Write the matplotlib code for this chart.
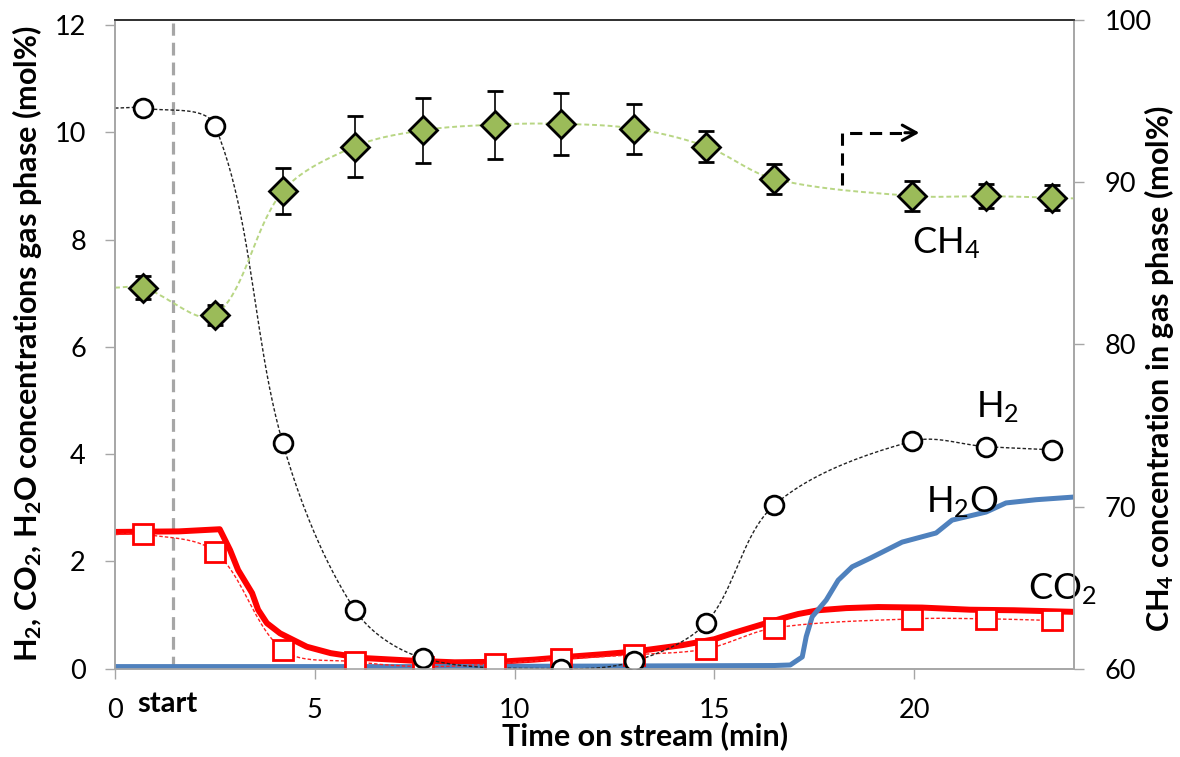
import numpy as np
import matplotlib
matplotlib.use('Agg')
import matplotlib.pyplot as plt

plt.rcParams['font.family'] = ['Lato', 'DejaVu Sans']
plt.rcParams['mathtext.default'] = 'regular'

# sample times (min) of the discrete analyses
t_pts = [0.7, 2.5, 4.2, 6.0, 7.7, 9.5, 11.15, 13.0, 14.8, 16.5, 19.95, 21.8, 23.45]
# H2 (mol%), no analysis shown at 9.5 min
h2_t = [0.7, 2.5, 4.2, 6.0, 7.7, 11.15, 13.0, 14.8, 16.5, 19.95, 21.8, 23.45]
h2 = [10.45, 10.12, 4.2, 1.1, 0.2, 0.0, 0.14, 0.86, 3.05, 4.24, 4.14, 4.08]
h2_start = 10.45
# CO2 (mol%) discrete
co2 = [2.51, 2.18, 0.35, 0.13, 0.04, 0.09, 0.18, 0.26, 0.37, 0.76, 0.93, 0.93, 0.9]
co2_start = 2.5
# CH4 (mol%, right axis) and error
ch4 = [83.5, 81.8, 89.45, 92.2, 93.2, 93.55, 93.6, 93.3, 92.2, 90.2, 89.15, 89.14, 89.05]
ch4_err = [0.7, 0.6, 1.4, 1.9, 2.0, 2.1, 1.9, 1.55, 0.95, 0.9, 0.9, 0.75, 0.75]
ch4_start = 83.5
ch4_end = 89.0

# continuous CO2 signal
co2_ms_t = [0, 1.6, 2.62, 2.88, 3.08, 3.43, 3.58, 3.8, 4.13, 4.8, 5.4, 6.2, 7.45, 8.5,
            9.6, 10.5, 11.3, 12.2, 13.0, 14.2, 15.0, 15.45, 16.3, 16.7, 17.1, 17.6,
            18.3, 19.1, 20.2, 21.4, 22.5, 24]
co2_ms = [2.55, 2.56, 2.6, 2.21, 1.84, 1.41, 1.1, 0.85, 0.66, 0.41, 0.29, 0.2, 0.15, 0.12,
          0.13, 0.17, 0.22, 0.27, 0.32, 0.44, 0.55, 0.66, 0.85, 0.94, 1.02, 1.09,
          1.13, 1.15, 1.14, 1.1, 1.09, 1.06]
# continuous H2O signal
h2o_ms_t = [0, 8, 16.5, 16.9, 17.2, 17.3, 17.45, 17.8, 18.1, 18.45, 18.9, 19.7,
            20.55, 20.95, 21.8, 22.3, 23.05, 24]
h2o_ms = [0.04, 0.04, 0.06, 0.07, 0.22, 0.6, 0.97, 1.28, 1.65, 1.9, 2.06, 2.36,
          2.53, 2.77, 2.92, 3.09, 3.15, 3.2]

start_t = 1.45


def smooth(x, y, sx, sy, n=24):
    # smoothed line like a spreadsheet chart: bezier segments, arms scaled by chord length
    p = np.column_stack([np.asarray(x, float) * sx, np.asarray(y, float) * sy])
    p = np.vstack([p[0], p, p[-1]])
    d = np.hypot(*np.diff(p, axis=0).T) + 1e-9
    out = []
    s = np.linspace(0, 1, n)[:, None]
    for i in range(1, len(p) - 2):
        p0, p1, p2, p3 = p[i - 1], p[i], p[i + 1], p[i + 2]
        d01, d12, d23 = d[i - 1], d[i], d[i + 1]
        c1 = p1 + (p2 - p0) * d12 / (d01 + d12) / 3
        c2 = p2 - (p3 - p1) * d12 / (d12 + d23) / 3
        seg = ((1 - s) ** 3) * p1 + 3 * ((1 - s) ** 2) * s * c1 + 3 * (1 - s) * s ** 2 * c2 + s ** 3 * p2
        out.append(seg)
    out = np.vstack(out)
    return out[:, 0] / sx, out[:, 1] / sy


fig = plt.figure(figsize=(11.8, 7.57), dpi=100)
ax = fig.add_axes([0.0975, 0.1166, 0.8126, 0.8576])
ax2 = ax.twinx()

ax.set_xlim(0, 24)
ax.set_ylim(0, 12.1)
ax2.set_ylim(60, 100.03)

gray = '#a6a6a6'
# start marker
ax.axvline(start_t, ymin=0, ymax=0.995, color=gray, lw=2.3, dashes=(4, 2.2), zorder=1)

# continuous signals
ax.plot(co2_ms_t, co2_ms, color='#ff0000', lw=4.3, zorder=2, solid_joinstyle='round')
ax.plot(h2o_ms_t, h2o_ms, color='#4f81bd', lw=3.6, zorder=3, solid_joinstyle='round')

# smoothed dotted lines through the analyses
xs, ys = smooth([0] + t_pts, [co2_start] + co2, 40, 53.6)
ax.plot(xs, ys, color='#ff2020', lw=1.0, ls=(0, (2.5, 1.5)), zorder=4)
xs, ys = smooth([0] + h2_t, [h2_start] + h2, 40, 53.6)
ax.plot(xs, ys, color='#222222', lw=1.0, ls=(0, (2.5, 1.5)), zorder=4)

ax.plot(t_pts, co2, ls='none', marker='s', ms=14.5, mfc='white', mec='#ff0000', mew=2, zorder=5)
ax.plot(h2_t, h2, ls='none', marker='o', ms=13.5, mfc='white', mec='black', mew=2, zorder=6)

xs, ys = smooth([0] + t_pts + [24], [ch4_start] + ch4 + [ch4_end], 40, 16.22)
ax2.plot(xs, ys, color='#b8d684', lw=1.4, ls=(0, (2.5, 1.5)), zorder=2)
ax2.errorbar(t_pts, ch4, yerr=ch4_err, fmt='D', ms=14, mfc='#9bbb59', mec='black', mew=2,
             ecolor='black', elinewidth=1.2, capsize=6, capthick=1.2, zorder=3)

# arrow pointing to the right axis
ax.plot([18.2, 18.2, 19.95], [9.02, 9.99, 9.99], color='black', lw=2.2, dashes=(4, 2.5))
ax.annotate('', xy=(20.2, 9.99), xytext=(19.7, 9.99),
            arrowprops=dict(arrowstyle='->,head_length=1.0,head_width=0.55', color='black', lw=2.2))

# series labels
ax.text(20.8, 7.94, 'CH$_4$', fontsize=26, ha='center', va='center')
ax.text(22.1, 4.88, 'H$_2$', fontsize=26, ha='center', va='center')
ax.text(21.2, 3.11, 'H$_2$O', fontsize=26, ha='center', va='center')
ax.text(23.7, 1.49, 'CO$_2$', fontsize=26, ha='center', va='center')

# axes styling
ax.set_xticks([0, 5, 10, 15, 20])
ax.set_yticks([0, 2, 4, 6, 8, 10, 12])
ax2.set_yticks([60, 70, 80, 90, 100])
ax.tick_params(axis='both', labelsize=19.5, length=7, width=1, color=gray, direction='out')
ax.tick_params(axis='x', pad=14)
ax.tick_params(axis='y', pad=14)
ax2.tick_params(axis='y', labelsize=19.5, length=7, width=1, color=gray, direction='out', pad=15)
for a in (ax, ax2):
    for side in ('left', 'right', 'bottom'):
        a.spines[side].set_color(gray)
        a.spines[side].set_linewidth(1.2)
    a.spines['top'].set_color('#333333')
    a.spines['top'].set_linewidth(1.3)

ax.text(1.31, -0.034, 'start', transform=ax.get_xaxis_transform(), fontsize=21,
        fontweight='bold', ha='center', va='top')

ax.set_xlabel('Time on stream (min)', fontsize=22, fontweight='bold', va='baseline')
ax.xaxis.set_label_coords(0.553, -0.1176)
ax.set_ylabel('H$_2$, CO$_2$, H$_2$O concentrations gas phase (mol%)', fontsize=22,
              fontweight='bold')
ax.yaxis.set_label_coords(-0.074, 0.5)
ax2.set_ylabel('CH$_4$ concentration in gas phase (mol%)', fontsize=22, fontweight='bold')
ax2.yaxis.set_label_coords(1.071, 0.462)

fig.savefig('out.png', dpi=100)
